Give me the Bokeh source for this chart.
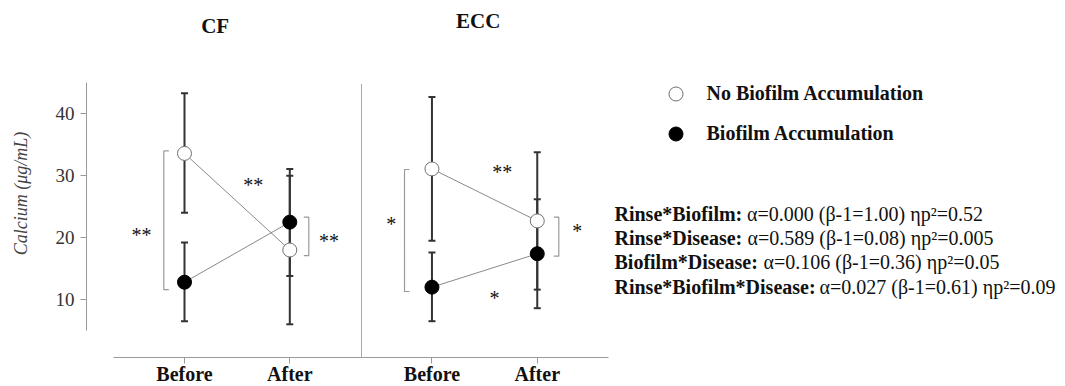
from bokeh.plotting import figure
from bokeh.models import (Range1d, FixedTicker, LinearAxis, Whisker, ColumnDataSource,
                          Label, Legend, LegendItem, TeeHead)
from bokeh.embed import file_html
from bokeh.resources import INLINE

# ---------------- data ----------------
panels = ["CF", "ECC"]
times = ["Before", "After"]
# order: CF-Before, CF-After, ECC-Before, ECC-After
nobio_mean = [33.6, 18.0, 31.1, 22.7]
nobio_lower = [24.0, 6.0, 19.5, 11.6]
nobio_upper = [43.3, 30.0, 42.7, 33.8]
bio_mean = [12.8, 22.5, 12.0, 17.4]
bio_lower = [6.5, 13.8, 6.5, 8.6]
bio_upper = [19.2, 31.1, 17.6, 26.2]
y_ticks = [10, 20, 30, 40]
# between-group comparison brackets (value span) and marks
bracket_low = [11.6, 17.1, 11.3, 17.0]
bracket_high = [34.0, 23.3, 31.0, 23.3]
bracket_marks = ["**", "**", "*", "*"]
# within-group marks
within_marks = ["**", "**", "*"]
within_vals = [29.2, 31.3, 10.9]
series_labels = ["No Biofilm Accumulation", "Biofilm Accumulation"]
stats_terms = ["Rinse*Biofilm:", "Rinse*Disease:", "Biofilm*Disease:", "Rinse*Biofilm*Disease:"]
stats_values = ["\u03b1=0.000 (\u03b2-1=1.00) \u03b7p\u00b2=0.52",
                "\u03b1=0.589 (\u03b2-1=0.08) \u03b7p\u00b2=0.005",
                "\u03b1=0.106 (\u03b2-1=0.36) \u03b7p\u00b2=0.05",
                "\u03b1=0.027 (\u03b2-1=0.61) \u03b7p\u00b2=0.09"]

# ---------------- layout constants ----------------
PANEL_SHIFT = 2.35    # x offset of the second panel
x_pos = [1.0, 2.0, 1.0 + PANEL_SHIFT, 2.0 + PANEL_SHIFT]
PPU_X = 105.3         # px per x unit
PX_X1 = 184.0         # px of x=1
PPU_Y = 6.191         # px per y unit
PX_Y45 = 82.35        # px of y=45
W, H = 1065, 386
FR_L = 86.0

def dx(px):
    return 1.0 + (px - PX_X1) / PPU_X

def dy(py):
    return 45.0 - (py - PX_Y45) / PPU_Y

SERIF = "Liberation Serif"

p = figure(width=W, height=H, output_backend="svg", toolbar_location=None,
           x_range=Range1d(dx(FR_L), dx(W)), y_range=Range1d(dy(H), dy(0)),
           x_axis_type=None, y_axis_type=None,
           min_border_left=int(FR_L), min_border_right=0, min_border_top=0, min_border_bottom=0)
p.outline_line_color = None
p.background_fill_color = "white"
p.border_fill_color = "white"

# y axis
yaxis = LinearAxis(ticker=FixedTicker(ticks=y_ticks), bounds=(5, 45),
                   axis_label="Calcium (\u03bcg/mL)")
yaxis.axis_line_color = "#9a9a9a"
yaxis.major_tick_line_color = "#9a9a9a"
yaxis.minor_tick_line_color = None
yaxis.major_tick_out = 6
yaxis.major_tick_in = 0
yaxis.major_label_standoff = 6
yaxis.major_label_text_font = SERIF
yaxis.major_label_text_font_size = "19px"
yaxis.major_label_text_color = "#333333"
yaxis.axis_label_text_font = SERIF
yaxis.axis_label_text_font_style = "italic"
yaxis.axis_label_text_font_size = "18px"
yaxis.axis_label_text_color = "#444444"
yaxis.axis_label_standoff = 22
p.add_layout(yaxis, "left")

# x axis (detached, drawn at a fixed location below the data)
overrides = {x_pos[i]: times[i % 2] for i in range(4)}
xaxis = LinearAxis(ticker=FixedTicker(ticks=x_pos), bounds=(dx(113), dx(608)),
                   major_label_overrides=overrides, fixed_location=dy(357))
xaxis.axis_line_color = "#9a9a9a"
xaxis.major_tick_line_color = "#9a9a9a"
xaxis.minor_tick_line_color = None
xaxis.major_tick_out = 6
xaxis.major_tick_in = 0
xaxis.major_label_standoff = -1
xaxis.major_label_text_font = SERIF
xaxis.major_label_text_font_size = "20px"
xaxis.major_label_text_font_style = "bold"
xaxis.major_label_text_color = "#111111"
p.add_layout(xaxis, "below")

# panel divider (dotted)
div_x = dx(361)
p.segment(x0=[div_x], y0=[dy(357)], x1=[div_x], y1=[dy(83)],
          line_color="#555555", line_width=1, line_dash="1 1")

# error bars
for mean, lo, hi in ((nobio_mean, nobio_lower, nobio_upper), (bio_mean, bio_lower, bio_upper)):
    src = ColumnDataSource(dict(x=x_pos, lower=lo, upper=hi))
    w = Whisker(source=src, base="x", lower="lower", upper="upper",
                line_color="#333333", line_width=2, level="underlay",
                upper_head=TeeHead(size=7, line_color="#333333", line_width=2),
                lower_head=TeeHead(size=7, line_color="#333333", line_width=2))
    p.add_layout(w)

# connecting lines per panel
for k in range(2):
    sl = slice(2 * k, 2 * k + 2)
    p.line(x_pos[sl], nobio_mean[sl], line_color="#8a8a8a", line_width=1)
    p.line(x_pos[sl], bio_mean[sl], line_color="#8a8a8a", line_width=1)

r_open = p.scatter(x_pos, nobio_mean, size=14, marker="circle", fill_color="white",
                   line_color="#707070", line_width=1)
r_fill = p.scatter(x_pos, bio_mean, size=14, marker="circle", fill_color="black",
                   line_color="black", line_width=1)

# brackets
bracket_px = [163.3, 308.3, 404.0, 558.3]
bracket_dir = [1, -1, 1, -1]
tick = 5.0 / PPU_X
xs, ys = [], []
for bxp, d, lo, hi in zip(bracket_px, bracket_dir, bracket_low, bracket_high):
    bx = dx(bxp)
    xs.append([bx + d * tick, bx, bx, bx + d * tick])
    ys.append([hi, hi, lo, lo])
p.multi_line(xs, ys, line_color="#9a9a9a", line_width=1.2)

# significance marks
bracket_star_px = [141.0, 328.5, 390.7, 576.7]
bracket_star_val = [21.0, 20.1, 22.8, 21.7]
p.text([dx(v) for v in bracket_star_px], bracket_star_val, text=bracket_marks,
       text_font={"value": SERIF}, text_font_size="20px",
       text_align="center", text_baseline="middle", y_offset=4, text_color="#111111")
within_px = [252.7, 501.7, 494.0]
p.text([dx(v) for v in within_px], within_vals, text=within_marks,
       text_font={"value": SERIF}, text_font_size="20px",
       text_align="center", text_baseline="middle", y_offset=4, text_color="#111111")

# panel titles
for name, px, py in zip(panels, [214.7, 477.7], [25.0, 20.3]):
    p.add_layout(Label(x=dx(px), y=dy(py), text=name, text_font=SERIF,
                       text_font_size="21px", text_font_style="bold",
                       text_align="center", text_baseline="middle", text_color="#111111"))

# legend
legend = Legend(items=[LegendItem(label=series_labels[0], renderers=[r_open]),
                       LegendItem(label=series_labels[1], renderers=[r_fill])],
                location=(571.5, 235.2), orientation="vertical",
                label_text_font=SERIF, label_text_font_size="20px",
                label_text_font_style="bold", label_text_color="#111111",
                glyph_width=35, glyph_height=35, label_height=35, spacing=5,
                padding=0, margin=0, label_standoff=14,
                border_line_color=None, background_fill_alpha=0)
p.add_layout(legend)

# stats text
stats_y = [213.3, 237.3, 261.0, 286.0]
stats_val_x = [746.5, 747.0, 763.0, 819.0]
for term, val, py, vx in zip(stats_terms, stats_values, stats_y, stats_val_x):
    p.add_layout(Label(x=dx(614), y=dy(py), text=term, text_font=SERIF,
                       text_font_size="20px", text_font_style="bold",
                       text_baseline="middle", text_color="#111111"))
    p.add_layout(Label(x=dx(vx), y=dy(py), text=val, text_font=SERIF,
                       text_font_size="20px", text_baseline="middle",
                       text_color="#111111"))

open("out.html", "w").write(file_html(p, INLINE))
